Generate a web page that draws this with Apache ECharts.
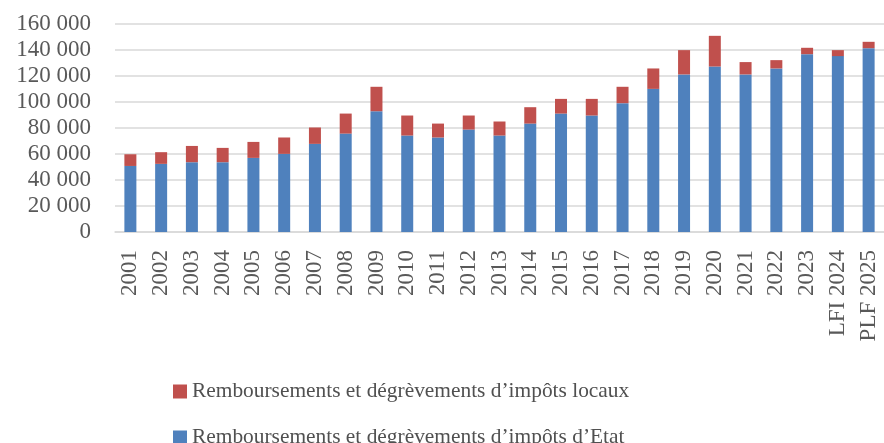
<!DOCTYPE html>
<html><head><meta charset="utf-8">
<script src="https://cdn.jsdelivr.net/npm/echarts@6/dist/echarts.min.js"></script>
<style>html,body{margin:0;padding:0;background:#fff}#c{width:884px;height:443px}</style>
</head><body><div id="c"></div>
<script>
var categories = ['2001','2002','2003','2004','2005','2006','2007','2008','2009','2010','2011','2012','2013','2014','2015','2016','2017','2018','2019','2020','2021','2022','2023','LFI 2024','PLF 2025'];
var etat = [50800,52400,53700,53700,57000,60100,67800,75700,92900,74200,72700,78800,74200,83400,91100,89600,99100,110100,121200,127300,121200,125800,136800,135300,141400];
var locaux = [9000,9000,12500,11000,12300,12600,12600,15400,18800,15400,10700,10800,10800,12600,11300,12800,12600,15700,18700,23600,9500,6400,4900,4600,4900];
var yTicks = [0,20000,40000,60000,80000,100000,120000,140000,160000];
var nameLocaux = 'Remboursements et dégrèvements d\u2019impôts locaux';
var nameEtat = 'Remboursements et dégrèvements d\u2019impôts d\u2019Etat';

var chart = echarts.init(document.getElementById('c'));
var font = "'Liberation Serif', serif";
var legendText = {fontFamily: font, fontSize: 21.4, color: '#505050'};
chart.setOption({
  animation: false,
  grid: {left: 115, right: -5, top: 24, bottom: 211},
  legend: [
    {left: 173, top: 381, padding: 0, itemWidth: 14, itemHeight: 14, icon: 'rect', itemGap: 6,
     data: [nameLocaux], textStyle: legendText},
    {left: 173, top: 427, padding: 0, itemWidth: 14, itemHeight: 14, icon: 'rect', itemGap: 6,
     data: [nameEtat], textStyle: legendText}
  ],
  xAxis: {
    type: 'category', data: categories,
    axisLine: {lineStyle: {color: '#d9d9d9', width: 1.5}},
    axisTick: {show: false},
    axisLabel: {rotate: 90, interval: 0, margin: 18, fontFamily: font, fontSize: 23, color: '#595959'}
  },
  yAxis: {
    type: 'value', min: yTicks[0], max: yTicks[yTicks.length-1], interval: 20000,
    axisLine: {show: false}, axisTick: {show: false},
    splitLine: {lineStyle: {color: '#d9d9d9', width: 1.5}},
    axisLabel: {margin: 24, fontFamily: font, fontSize: 23, color: '#595959',
      formatter: function(v){ return String(v).replace(/\B(?=(\d{3})+(?!\d))/g, ' '); }}
  },
  series: [
    {name: nameEtat, type: 'bar', stack: 's', data: etat, barWidth: 12,
      itemStyle: {color: '#4f81bd'}},
    {name: nameLocaux, type: 'bar', stack: 's', data: locaux, barWidth: 12,
      itemStyle: {color: '#c0504d'}}
  ]
});
</script></body></html>
